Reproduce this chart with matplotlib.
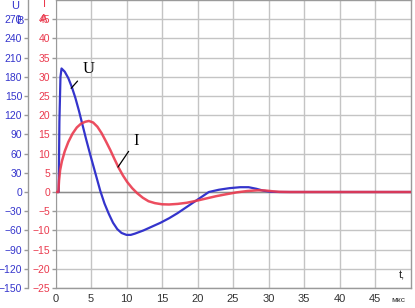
#!/usr/bin/env python3
"""
Voltage / current transient, two stacked left scales (U in V, I in A)
"""

import matplotlib
matplotlib.use("Agg")
import matplotlib.pyplot as plt

# data
t_u = [0, 0.45, 0.55, 0.7, 0.85, 1.3, 1.8, 2.3, 2.8, 3.3, 3.8, 4.3, 4.9, 5.6,
       6.3, 6.9, 7.5, 8.1, 8.7, 9.3, 10.0, 10.6, 11.2, 12.4, 13.6, 14.8,
       16.0, 17.2, 18.4, 19.6, 20.8, 21.6, 23.0, 24.5, 26.0, 27.2, 28.3,
       29.3, 30.3, 31.5, 35, 40, 45, 50]
u_vals = [0, 0, 110, 180, 193, 188, 178, 164, 147, 127, 105, 83, 58, 30,
          2, -18, -34, -48, -58, -64, -67, -67, -65, -60, -54, -48,
          -41, -33, -24, -15, -6, 0, 3.5, 6, 7.5, 7.5, 5,
          2, 0.3, 0, 0, 0, 0, 0]

t_i = [0, 0.4, 0.5, 0.65, 0.9, 1.3, 1.8, 2.4, 3.0, 3.6, 4.2, 4.7, 5.3, 5.9,
       6.5, 7.1, 7.7, 8.3, 8.9, 9.5, 10.1, 10.8, 11.5, 12.3, 13.1, 14.0,
       15.0, 16.0, 17.2, 18.5, 19.8, 21.2, 22.6, 24.0, 25.5, 27.0, 28.5,
       29.5, 30.5, 31.5, 33, 40, 45, 50]
i_vals = [0, 0, 3, 5.7, 8, 10.6, 13, 15.2, 16.8, 17.8, 18.3, 18.5, 18.1, 17,
          15.3, 13.2, 11, 8.6, 6.3, 4.3, 2.6, 1.0, -0.3, -1.5, -2.4, -2.9,
          -3.2, -3.25, -3.1, -2.8, -2.3, -1.7, -1.1, -0.6, -0.1, 0.25, 0.45,
          0.4, 0.2, 0.05, 0, 0, 0, 0]

x_ticks = list(range(0, 50, 5))
u_ticks = list(range(-150, 300, 30))
i_ticks = list(range(-25, 50, 5))

BLUE = "#3434cc"
RED = "#ea3a4e"
GRID = "#c4c4c4"
SPINE = "#9a9a9a"

W, H = 415, 308


def fx(px):
    return px / W


def fy(py):
    return 1 - py / H


def main():
    plt.rcParams['font.family'] = ['Liberation Sans', 'DejaVu Sans']
    fig = plt.figure(figsize=(W / 100, H / 100), dpi=100)
    fig.patch.set_facecolor("white")

    # plot area in pixels: left 55.5, right 410.5, top 0, bottom 288
    ax = fig.add_axes([fx(55.5), 1 - 288 / H, fx(410.5 - 55.5), 288 / H])
    ax.set_xlim(0, 50)
    ax.set_ylim(-150, 300)

    # U scale sits further left
    ax.spines['left'].set_position(('outward', 20))
    for s in ax.spines.values():
        s.set_color(SPINE)
        s.set_linewidth(1)
    ax.set_yticks(u_ticks)
    ax.tick_params(axis='y', colors=BLUE, labelsize=7.5, length=3, width=1, pad=1)
    ax.tick_params(axis='y', color=SPINE)
    ax.set_xticks(x_ticks)
    ax.tick_params(axis='x', labelsize=8, length=0, pad=4, labelcolor="#333333")
    ax.grid(True, color=GRID, lw=1)
    ax.set_axisbelow(True)
    ax.axhline(0, color="#8c8c8c", lw=1, zorder=1)

    # I scale, at the left edge of the plot
    ax2 = ax.twinx()
    ax2.set_ylim(-25, 50)
    ax2.yaxis.tick_left()
    ax2.set_yticks(i_ticks)
    ax2.tick_params(axis='y', colors=RED, labelsize=7.5, length=3, width=1, pad=1)
    ax2.tick_params(axis='y', color=SPINE)
    ax2.spines['right'].set_visible(False)
    ax2.spines['top'].set_visible(False)
    ax2.spines['bottom'].set_visible(False)
    ax2.spines['left'].set_color(SPINE)

    ax.plot(t_u, u_vals, color=BLUE, lw=1.6, zorder=3)
    ax2.plot(t_i, i_vals, color=RED, lw=1.8, alpha=0.9, zorder=4)

    # curve labels with leader lines (drawn on top axes so they show)
    ax2.annotate("U", xy=(2.2, 27.0), xytext=(4.6, 32), fontsize=12,
                 family="Liberation Serif", ha="center", va="center", zorder=6,
                 arrowprops=dict(arrowstyle='-', color="black", lw=0.9,
                                 shrinkB=0, shrinkA=2))
    ax2.annotate("I", xy=(8.8, 6.5), xytext=(11.3, 13.3), fontsize=12,
                 family="Liberation Serif", ha="center", va="center", zorder=6,
                 arrowprops=dict(arrowstyle='-', color="black", lw=0.9,
                                 shrinkB=0, shrinkA=2))

    # unit labels
    fig.text(fx(15), fy(6), "U", color=BLUE, fontsize=8, ha="center", va="center")
    fig.text(fx(20), fy(21), "В", color=BLUE, fontsize=8, ha="center", va="center")
    fig.text(fx(44), fy(4), "I", color=RED, fontsize=8, ha="center", va="center")
    fig.text(fx(44), fy(19), "А", color=RED, fontsize=8, ha="center", va="center")
    fig.text(fx(402), fy(276), "t,", color="#222222", fontsize=8, ha="center", va="center")
    fig.text(fx(398), fy(300), "мкс", color="#333333", fontsize=6, ha="center", va="center")

    fig.savefig("out.png", dpi=100)


if __name__ == '__main__':
    main()
